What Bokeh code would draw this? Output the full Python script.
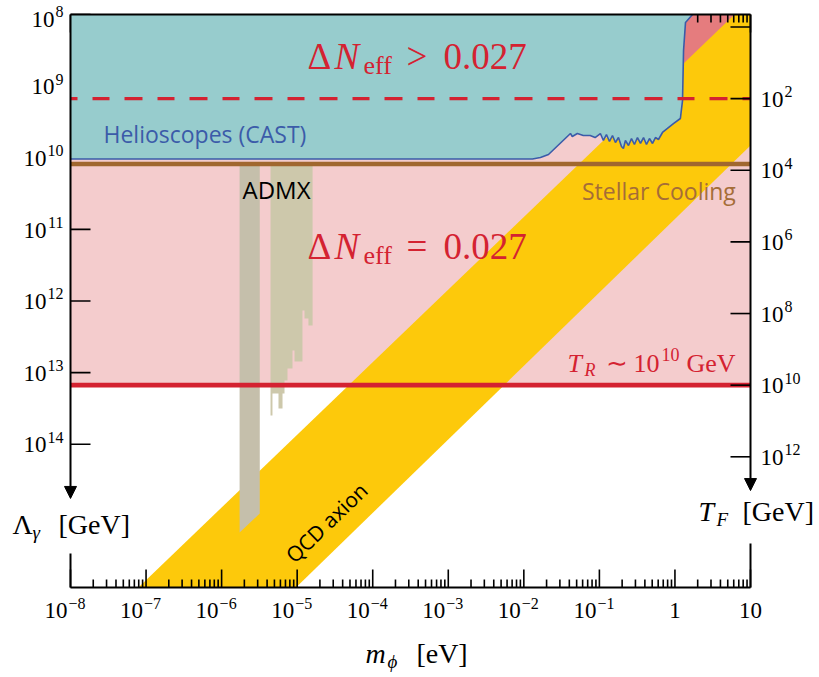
import math
from bokeh.plotting import figure
from bokeh.models import Range1d, LogScale, Arrow, NormalHead
from bokeh.core.properties import value
from bokeh.embed import file_html
from bokeh.resources import INLINE

# ---------------- data ----------------
m_major_ticks = [1e-8, 1e-7, 1e-6, 1e-5, 1e-4, 1e-3, 1e-2, 1e-1, 1.0, 10.0]
m_label_base = ["10", "10", "10", "10", "10", "10", "10", "10", "1", "10"]
m_label_exp = ["−8", "−7", "−6", "−5", "−4", "−3", "−2", "−1", "", ""]
minor_mantissas = [2, 3, 4, 5, 6, 7, 8, 9]

lambda_ticks = [1e8, 1e9, 1e10, 1e11, 1e12, 1e13, 1e14]
lambda_label_exp = ["8", "9", "10", "11", "12", "13", "14"]

tf_ticks = [1e0, 1e2, 1e4, 1e6, 1e8, 1e10, 1e12]
tf_label_exp = ["", "2", "4", "6", "8", "10", "12"]
tf_lambda2_ratio = 2.24e16         # Lambda^2 / T_F  [GeV]

lambda_stellar = 1.22e10           # stellar cooling bound
tf_reheat = 1e10                   # T_R ~ 1e10 GeV
tf_dneff = 1e2                     # Delta N_eff > 0.027 boundary

cast_m = [1e-8, 0.013, 0.0166, 0.0212, 0.0414, 0.0438, 0.0511, 0.0612, 0.0755, 0.0878,
          0.103, 0.113, 0.124, 0.136, 0.149, 0.163, 0.179, 0.196, 0.208, 0.221,
          0.243, 0.266, 0.291, 0.319, 0.350, 0.384, 0.420, 0.460, 0.505, 0.552,
          0.605, 0.684, 0.796, 0.955, 1.18, 1.26, 1.30, 1.38, 1.71]
cast_lambda = [1.04e10, 1.04e10, 9.92e9, 9.01e9, 4.59e9, 5.05e9, 4.59e9, 4.89e9, 4.89e9, 5.22e9,
               4.59e9, 5.74e9, 4.74e9, 5.93e9, 4.89e9, 6.13e9, 5.22e9, 6.97e9, 7.43e9, 5.74e9,
               6.75e9, 5.39e9, 6.53e9, 5.22e9, 6.32e9, 5.22e9, 6.53e9, 5.39e9, 6.32e9, 5.22e9,
               5.56e9, 4.44e9, 3.90e9, 3.33e9, 2.83e9, 1.59e9, 3.18e8, 1.29e8, 1.0e8]

qcd_low_edge_m = [8.43e-8, 1.22]
qcd_low_edge_lambda = [9.38e15, 5.15e8]
qcd_high_edge_m = [9.64e-6, 10.0]
qcd_high_edge_lambda = [1.0e16, 6.75e9]

admx1_m = [1.73e-6, 3.2e-6]
admx1_lambda_bottom = [1.71e15, 9.27e14]
admx2_m_edges = [4.44e-6, 4.71e-6, 5.66e-6, 6.40e-6, 6.80e-6, 7.45e-6, 8.67e-6, 9.22e-6,
                 1.175e-5, 1.25e-5, 1.41e-5, 1.60e-5]
admx2_lambda_bottom = [3.97e13, 1.95e13, 3.17e13, 1.95e13, 1.29e13, 8.75e12, 4.91e12, 7.0e12,
                       1.36e12, 1.75e12, 2.20e12]

# ---------------- layout ----------------
W, H = 819, 677
BOX_L, BOX_R, BOX_T, BOX_B = 70, 750, 14, 587
M_MIN, M_MAX = 1e-8, 10.0
L_TOP, L_BOT = 1e8, 1e16
lg = math.log10
px_x = (BOX_R - BOX_L) / (lg(M_MAX) - lg(M_MIN))
px_y = (BOX_B - BOX_T) / (lg(L_BOT) - lg(L_TOP))

x_range = Range1d(10 ** (lg(M_MIN) - BOX_L / px_x), 10 ** (lg(M_MAX) + (W - BOX_R) / px_x))
y_range = Range1d(10 ** (lg(L_BOT) + (H - BOX_B) / px_y), 10 ** (lg(L_TOP) - BOX_T / px_y))

PINK = "#f4cccd"
TEAL = "#97cccd"
RED_FILL = "#e57c7e"
YELLOW = "#fdc90b"
GRAY1 = "#c5bfab"
GRAY2 = "#cdc8ab"
BROWN = "#a0672f"
RED = "#d42231"
BLUE = "#3b5ba9"
TEXT_BROWN = "#a56d38"
SERIF = "Liberation Serif"
SANS = "Open Sans"
BASELINE_FIX = 0.32   # renderer places "alphabetic" text lower; compensate

p = figure(width=W, height=H, x_range=x_range, y_range=y_range,
           x_axis_type="log", y_axis_type="log",
           x_axis_location=None, y_axis_location=None,
           output_backend="svg", toolbar_location=None, min_border=0,
           outline_line_color=None, background_fill_color="white",
           border_fill_color="white")
p.x_scale = LogScale()
p.y_scale = LogScale()
p.grid.visible = False


def lam_from_tf(tf):
    return math.sqrt(tf * tf_lambda2_ratio)


def clip_to_box(us, vs):
    umin, umax = lg(M_MIN), lg(M_MAX)
    vmin, vmax = lg(L_TOP), lg(L_BOT)
    pts = list(zip(us, vs))
    for k, b, ge in ((0, umin, True), (0, umax, False), (1, vmin, True), (1, vmax, False)):
        res = []
        for i in range(len(pts)):
            a, c = pts[i - 1], pts[i]
            ina = a[k] >= b if ge else a[k] <= b
            inc = c[k] >= b if ge else c[k] <= b
            if inc != ina:
                t = (b - a[k]) / (c[k] - a[k])
                res.append((a[0] + t * (c[0] - a[0]), a[1] + t * (c[1] - a[1])))
            if inc:
                res.append(c)
        pts = res
    return [10 ** u for u, _ in pts], [10 ** v for _, v in pts]


def edge_u(ms, ls, v):
    u1, u2 = lg(ms[0]), lg(ms[1])
    v1, v2 = lg(ls[0]), lg(ls[1])
    return u1 + (v - v1) * (u2 - u1) / (v2 - v1)


def txt(x, y, s, size, color="black", font=SERIF, style="normal", dx=0, dy=0,
        align="left", baseline="alphabetic", angle=0.0):
    fix = -BASELINE_FIX * size if baseline == "alphabetic" else 0
    p.text(x=[x], y=[y], text=[s], x_offset=dx, y_offset=dy + fix,
           text_font=value(font), text_font_size=f"{size}px", text_font_style=style,
           text_color=color, text_align=align, text_baseline=baseline, angle=angle)


lam_reheat = lam_from_tf(tf_reheat)
lam_dneff = lam_from_tf(tf_dneff)
m_minor = [k * m for m in m_major_ticks[:-1] for k in minor_mantissas]

# ---- background regions ----
p.quad(left=M_MIN, right=M_MAX, top=L_TOP, bottom=lam_reheat, fill_color=PINK, line_color=None)
p.quad(left=M_MIN, right=M_MAX, top=L_TOP, bottom=lam_dneff, fill_color=RED_FILL, line_color=None)

# ---- QCD axion band ----
v_a, v_b = lg(L_TOP) - 2, lg(L_BOT) + 2
bu = [edge_u(qcd_low_edge_m, qcd_low_edge_lambda, v_b), edge_u(qcd_low_edge_m, qcd_low_edge_lambda, v_a),
      edge_u(qcd_high_edge_m, qcd_high_edge_lambda, v_a), edge_u(qcd_high_edge_m, qcd_high_edge_lambda, v_b)]
bv = [v_b, v_a, v_a, v_b]
bx, by = clip_to_box(bu, bv)
p.patch(bx, by, fill_color=YELLOW, line_color=None)

# ---- ADMX ----
p.patch([admx1_m[0], admx1_m[1], admx1_m[1], admx1_m[0]],
        [lambda_stellar, lambda_stellar, admx1_lambda_bottom[1], admx1_lambda_bottom[0]],
        fill_color=GRAY1, line_color=None)
ax2 = [admx2_m_edges[0]]
ay2 = [lambda_stellar]
for i, lb in enumerate(admx2_lambda_bottom):
    ax2 += [admx2_m_edges[i], admx2_m_edges[i + 1]]
    ay2 += [lb, lb]
ax2.append(admx2_m_edges[-1])
ay2.append(lambda_stellar)
p.patch(ax2, ay2, fill_color=GRAY2, line_color=None)

# ---- top & left ticks (under the CAST region) ----
p.ray(x=m_major_ticks, y=[L_TOP] * len(m_major_ticks), length=18, length_units="screen",
      angle=-math.pi / 2, line_color="black", line_width=1.6)
p.ray(x=m_minor, y=[L_TOP] * len(m_minor), length=8, length_units="screen",
      angle=-math.pi / 2, line_color="black", line_width=1.6)
p.ray(x=[M_MIN] * len(lambda_ticks), y=lambda_ticks, length=20, length_units="screen",
      angle=0, line_color="black", line_width=1.6)

# ---- helioscopes (CAST) ----
tx = [M_MIN] + cast_m + [M_MIN]
ty = [L_TOP] + cast_lambda + [L_TOP]
p.patch(tx, ty, fill_color=TEAL, line_color=None)
p.line(cast_m, cast_lambda, line_color=BLUE, line_width=1.6)

# ---- horizontal bounds ----
p.line([M_MIN, M_MAX], [lambda_stellar] * 2, line_color=BROWN, line_width=4.6)
p.line([M_MIN, M_MAX], [lam_reheat] * 2, line_color=RED, line_width=4.6)
p.line([M_MIN, M_MAX], [lam_dneff] * 2, line_color=RED, line_width=3.2,
       line_dash="18 15 17 15", line_dash_offset=11)

# ---- texts in the plot ----
x_dn = 1.37e-5
for y_dn, rel in ((5.68e8, ">"), (2.55e11, "=")):
    txt(x_dn, y_dn, "Δ", 37, RED)
    txt(x_dn, y_dn, "N", 37, RED, style="italic", dx=27)
    txt(x_dn, y_dn, "eff", 26, RED, dx=56, dy=5)
    txt(x_dn, y_dn, rel, 37, RED, dx=99)
    txt(x_dn, y_dn, "0.027", 37, RED, dx=136)

txt(2.73e-8, 5.93e9, "Helioscopes (CAST)", 23, BLUE, font=SANS)
txt(1.89e-6, 3.59e10, "ADMX", 24, "black", font=SANS)
txt(6.4, 3.71e10, "Stellar Cooling", 23, TEXT_BROWN, font=SANS, align="right")

x_tr, y_tr = 0.0379, 9.64e12
txt(x_tr, y_tr, "T", 26, RED, style="italic")
txt(x_tr, y_tr, "R", 18, RED, style="italic", dx=17, dy=4)
txt(x_tr, y_tr, "∼", 26, RED, dx=38)
txt(x_tr, y_tr, "10", 26, RED, dx=66)
txt(x_tr, y_tr, "10", 18, RED, dx=94, dy=-11)
txt(x_tr, y_tr, "GeV", 26, RED, dx=119)

txt(2.44e-5, 1.24e15, "QCD axion", 21, "black", font=SANS, align="center",
    baseline="middle", angle=math.radians(44))

# ---- right and bottom ticks (on top) ----
tf_lam = [lam_from_tf(t) for t in tf_ticks]
p.ray(x=[M_MAX] * len(tf_lam), y=tf_lam, length=20, length_units="screen",
      angle=math.pi, line_color="black", line_width=1.6)
p.ray(x=m_major_ticks, y=[L_BOT] * len(m_major_ticks), length=18, length_units="screen",
      angle=math.pi / 2, line_color="black", line_width=1.6)
p.ray(x=m_minor, y=[L_BOT] * len(m_minor), length=8, length_units="screen",
      angle=math.pi / 2, line_color="black", line_width=1.6)

# ---- frame / spines ----
p.line([M_MIN, M_MAX], [L_TOP, L_TOP], line_color="black", line_width=2)
p.line([M_MIN, M_MAX], [L_BOT, L_BOT], line_color="black", line_width=2)
left_arrow_end, left_spine_restart = 5.71e14, 3.35e15
right_arrow_end, right_spine_restart = 4.43e14, 2.43e15
p.line([M_MIN, M_MIN], [left_spine_restart, L_BOT], line_color="black", line_width=2)
p.line([M_MAX, M_MAX], [right_spine_restart, L_BOT], line_color="black", line_width=2)
p.add_layout(Arrow(end=NormalHead(size=12, fill_color="black", line_color="black", line_width=1),
                   x_start=M_MIN, y_start=L_TOP, x_end=M_MIN, y_end=left_arrow_end,
                   line_color="black", line_width=2))
p.add_layout(Arrow(end=NormalHead(size=12, fill_color="black", line_color="black", line_width=1),
                   x_start=M_MAX, y_start=L_TOP, x_end=M_MAX, y_end=right_arrow_end,
                   line_color="black", line_width=2))

# ---- tick labels ----
BASE, SUP = 23, 16
for m, b, e in zip(m_major_ticks, m_label_base, m_label_exp):
    if e:
        txt(m, L_BOT, b, BASE, dx=-3, dy=30, align="right")
        txt(m, L_BOT, e, SUP, dx=-2, dy=21)
    else:
        txt(m, L_BOT, b, BASE, dx=0, dy=30, align="center")

for i, (lam, e) in enumerate(zip(lambda_ticks, lambda_label_exp)):
    nudge = 4 if i == 0 else 0
    ew = 0.5 * SUP * len(e)
    txt(M_MIN, lam, e, SUP, dx=-7, dy=-2 + nudge, align="right")
    txt(M_MIN, lam, "10", BASE, dx=-8 - ew, dy=8 + nudge, align="right")

for lam, e in zip(tf_lam, tf_label_exp):
    if not e:
        continue
    txt(M_MAX, lam, "10", BASE, dx=10, dy=8)
    txt(M_MAX, lam, e, SUP, dx=34, dy=-2)

# ---- axis titles ----
x_lg, y_lg = 1.71e-9, 1.76e15
txt(x_lg, y_lg, "Λ", 28)
txt(x_lg, y_lg, "γ", 19, style="italic", dx=20, dy=5)
txt(x_lg, y_lg, "[GeV]", 28, dx=46)

x_tf, y_tf = 2.05, 1.16e15
txt(x_tf, y_tf, "T", 28, style="italic")
txt(x_tf, y_tf, "F", 19, style="italic", dx=18, dy=5)
txt(x_tf, y_tf, "[GeV]", 28, dx=44)

x_m, y_m = 8.0e-5, 1.12e17
txt(x_m, y_m, "m", 28, style="italic")
txt(x_m, y_m, "ϕ", 19, style="italic", dx=22, dy=5)
txt(x_m, y_m, "[eV]", 28, dx=51)

open("out.html", "w").write(file_html(p, INLINE))
